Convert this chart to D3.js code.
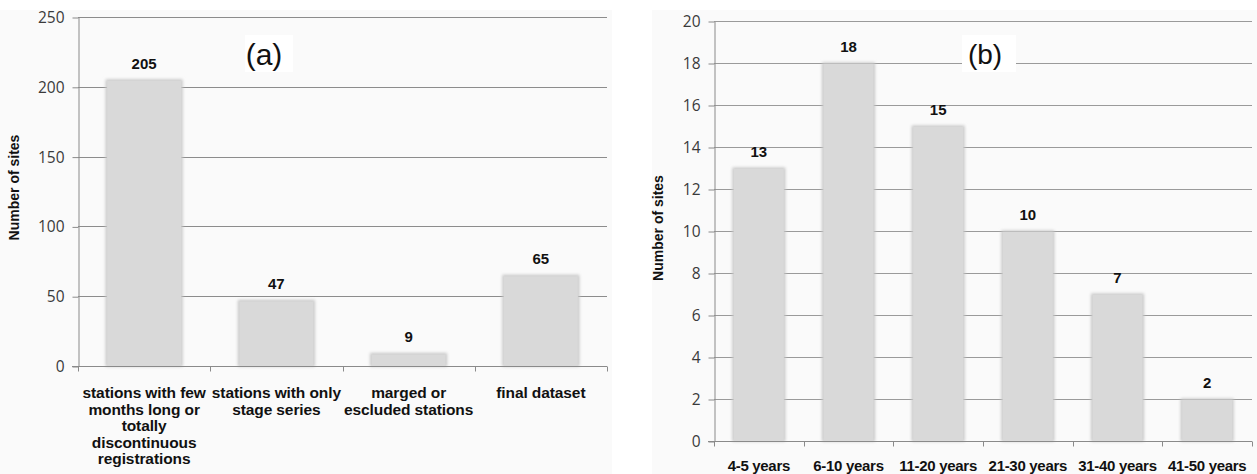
<!DOCTYPE html>
<html>
<head>
<meta charset="utf-8">
<script src="https://cdn.jsdelivr.net/npm/d3@7"></script>
<style>
  html, body { margin: 0; padding: 0; background: #ffffff; }
  svg { display: block; }
</style>
</head>
<body>
<svg id="chart" width="1257" height="474"></svg>
<script>
// ---- Data: panel (a) ----
const catsA = [
  ["stations with few", "months long or", "totally", "discontinuous", "registrations"],
  ["stations with only", "stage series"],
  ["marged or", "escluded stations"],
  ["final dataset"]
];
const valsA = [205, 47, 9, 65];
const ticksA = [0, 50, 100, 150, 200, 250];

// ---- Data: panel (b) ----
const catsB = ["4-5 years", "6-10 years", "11-20 years", "21-30 years", "31-40 years", "41-50 years"];
const valsB = [13, 18, 15, 10, 7, 2];
const ticksB = [0, 2, 4, 6, 8, 10, 12, 14, 16, 18, 20];

const yTitle = "Number of sites";

const svg = d3.select("#chart");

const defs = svg.append("defs");
const f = defs.append("filter").attr("id", "soft").attr("x", "-20%").attr("y", "-20%").attr("width", "140%").attr("height", "140%");
f.append("feGaussianBlur").attr("in", "SourceGraphic").attr("stdDeviation", 1.6);

// panel backgrounds
svg.append("rect").attr("x", 0).attr("y", 10).attr("width", 612).attr("height", 464).attr("fill", "#fafafa");
svg.append("rect").attr("x", 652).attr("y", 10).attr("width", 605).attr("height", 464).attr("fill", "#fafafa");

function panel(cfg) {
  const g = svg.append("g");
  const x = d3.scaleBand().domain(cfg.cats.map((d, i) => i)).range([cfg.x0, cfg.x1]).padding(0);
  const y = d3.scaleLinear().domain([0, cfg.max]).range([cfg.y0, cfg.y1]);

  // gridlines
  g.append("g").selectAll("line").data(cfg.ticks.filter(t => t > 0)).join("line")
    .attr("x1", cfg.x0).attr("x2", cfg.x1)
    .attr("y1", d => Math.round(y(d)) + 0.5).attr("y2", d => Math.round(y(d)) + 0.5)
    .attr("stroke", cfg.grid).attr("stroke-width", 1);

  // label box + label
  g.append("rect").attr("x", cfg.lbl.bx).attr("y", cfg.lbl.by).attr("width", cfg.lbl.bw).attr("height", cfg.lbl.bh).attr("fill", "#ffffff");
  g.append("text").attr("x", cfg.lbl.x).attr("y", cfg.lbl.y).attr("text-anchor", "middle")
    .attr("font-family", "Liberation Sans, Arial, sans-serif").attr("font-size", cfg.lbl.size).attr("fill", "#111")
    .text(cfg.lbl.text);

  // y axis
  const yAxis = d3.axisLeft(y).tickValues(cfg.ticks).tickSize(6).tickPadding(cfg.tickPad).tickSizeOuter(0);
  const ya = g.append("g").attr("transform", `translate(${cfg.x0 + 0.5},0.5)`).call(yAxis);
  ya.select(".domain").attr("stroke", "#8a8a8a");
  ya.selectAll(".tick line").attr("stroke", "#8a8a8a");
  ya.selectAll(".tick text").attr("font-family", "Open Sans, sans-serif").attr("font-size", cfg.tickFont).attr("fill", "#3a3a3a");

  // bars
  const bw = x.bandwidth() * cfg.barFrac;
  const bars = g.append("g");
  bars.selectAll("rect.sh").data(cfg.vals).join("rect").attr("class", "sh")
    .attr("x", (d, i) => x(i) + (x.bandwidth() - bw) / 2 - 0.5)
    .attr("width", bw + 1)
    .attr("y", d => y(d) - 0.5)
    .attr("height", d => cfg.y0 - y(d) + 1)
    .attr("fill", "#c8c8c8").attr("filter", "url(#soft)");
  bars.selectAll("rect.b").data(cfg.vals).join("rect").attr("class", "b")
    .attr("x", (d, i) => x(i) + (x.bandwidth() - bw) / 2 + 1)
    .attr("width", bw - 2)
    .attr("y", d => y(d) + 1)
    .attr("height", d => cfg.y0 - y(d) - 1)
    .attr("fill", "#d9d9d9");

  // x axis
  const xa = g.append("g").attr("transform", `translate(0,${cfg.y0 + 0.5})`);
  xa.append("line").attr("x1", cfg.x0 - 6).attr("x2", cfg.x1).attr("stroke", "#8a8a8a");
  const edges = d3.range(cfg.cats.length + 1).map(i => i < cfg.cats.length ? x(i) : cfg.x1);
  xa.selectAll("line.t").data(edges).join("line").attr("class", "t")
    .attr("x1", d => Math.round(d) + 0.5).attr("x2", d => Math.round(d) + 0.5)
    .attr("y1", 0).attr("y2", 5).attr("stroke", "#8a8a8a");

  // category labels
  const cl = g.append("g").attr("font-family", "Liberation Sans, Arial, sans-serif").attr("font-weight", "bold")
    .attr("font-size", cfg.catFont).attr("fill", "#111").attr("text-anchor", "middle");
  cfg.cats.forEach((c, i) => {
    const lines = Array.isArray(c) ? c : [c];
    const t = cl.append("text").attr("x", x(i) + x.bandwidth() / 2).attr("y", cfg.catY).attr("letter-spacing", cfg.catLs);
    lines.forEach((ln, k) => t.append("tspan").attr("x", x(i) + x.bandwidth() / 2).attr("dy", k === 0 ? 0 : cfg.catLh).text(ln));
  });

  // value labels
  g.append("g").selectAll("text").data(cfg.vals).join("text")
    .attr("x", (d, i) => x(i) + x.bandwidth() / 2)
    .attr("y", d => y(d) - cfg.valOff)
    .attr("text-anchor", "middle")
    .attr("font-family", "Liberation Sans, Arial, sans-serif").attr("font-weight", "bold")
    .attr("font-size", cfg.valFont).attr("fill", "#111")
    .text(d => d);

  // y title
  g.append("text")
    .attr("transform", `translate(${cfg.titleX},${(cfg.y0 + cfg.y1) / 2 + cfg.titleDy}) rotate(-90)`)
    .attr("text-anchor", "middle")
    .attr("font-family", "Liberation Sans, Arial, sans-serif").attr("font-weight", "bold")
    .attr("font-size", 14).attr("fill", "#111")
    .text(yTitle);
}

panel({
  cats: catsA, vals: valsA, ticks: ticksA, max: 250,
  x0: 78, x1: 607, y0: 366, y1: 17,
  grid: "#8c8c8c", barFrac: 0.575, tickFont: 15.5, tickPad: 8,
  catFont: 15.5, catY: 398, catLh: 16.5, catLs: -0.1,
  valFont: 15, valOff: 11,
  titleX: 19, titleDy: -4,
  lbl: { text: "(a)", x: 264, y: 65, size: 30, bx: 245, by: 35, bw: 48, bh: 37 }
});

panel({
  cats: catsB, vals: valsB, ticks: ticksB, max: 20,
  x0: 714, x1: 1252, y0: 441, y1: 21,
  grid: "#9a9a9a", barFrac: 0.58, tickFont: 15.5, tickPad: 8,
  catFont: 15, catY: 471, catLh: 16, catLs: -0.3,
  valFont: 15, valOff: 11,
  titleX: 663, titleDy: -3,
  lbl: { text: "(b)", x: 985, y: 64, size: 28, bx: 962, by: 35, bw: 54, bh: 37 }
});
</script>
</body>
</html>
